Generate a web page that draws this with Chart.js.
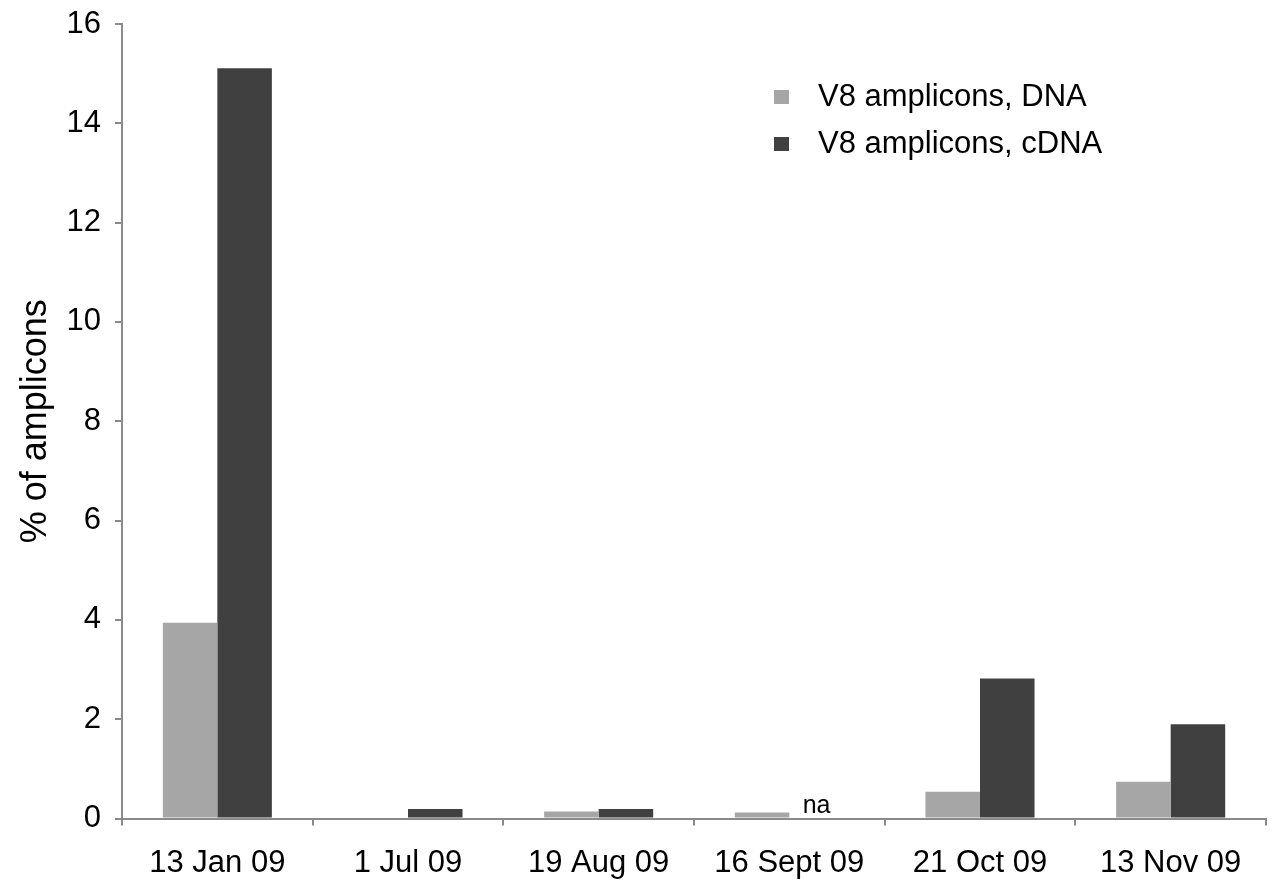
<!DOCTYPE html>
<html lang="en">
<head>
    <meta charset="UTF-8">
    <title>V8 amplicons</title>
    <script src="https://cdn.jsdelivr.net/npm/chart.js"></script>
    <style>
        body { margin: 0; background: #fff; }
        #box { width: 1274px; height: 883px; }
    </style>
</head>
<body>
    <div id="box"><canvas id="myChartCanvas"></canvas></div>

<script>
    // dados
    const datas = ["13 Jan 09", "1 Jul 09", "19 Aug 09", "16 Sept 09", "21 Oct 09", "13 Nov 09"];
    const dnaValues = [3.94, 0.02, 0.14, 0.12, 0.54, 0.74];
    const cdnaValues = [15.11, 0.19, 0.19, null, 2.82, 1.90];
    const seriesNames = ["V8 amplicons, DNA", "V8 amplicons, cDNA"];
    const yTicks = [0, 2, 4, 6, 8, 10, 12, 14, 16];

    const fonte = "'Liberation Sans', Arial, sans-serif";
    const cinzaEixo = "#8a8a8a";

    // legenda dentro do gráfico + texto "na"
    const extras = {
        id: "extras",
        afterDatasetsDraw(chart) {
            const ctx = chart.ctx;
            ctx.save();
            ctx.font = "31px " + fonte;
            ctx.textBaseline = "middle";
            ctx.textAlign = "left";
            chart.data.datasets.forEach(function (ds, i) {
                const y = 97 + i * 47;
                ctx.fillStyle = ds.backgroundColor;
                ctx.fillRect(774, y - 7, 15, 14);
                ctx.fillStyle = "#000";
                ctx.fillText(ds.label, 818, y);
            });
            // na = sem valor de cDNA
            const meta0 = chart.getDatasetMeta(0);
            ctx.font = "25px " + fonte;
            ctx.textAlign = "center";
            ctx.textBaseline = "alphabetic";
            cdnaValues.forEach(function (v, i) {
                if (v === null) {
                    const bar = meta0.data[i];
                    const x = bar.x + bar.width;
                    ctx.fillStyle = "#000";
                    ctx.fillText("na", x, chart.scales.y.getPixelForValue(0) - 6);
                }
            });
            ctx.restore();
        }
    };

    const dados = {
        labels: datas,
        datasets: [
            {
                label: seriesNames[0],
                data: dnaValues,
                backgroundColor: "#a6a6a6",
                barPercentage: 1,
                categoryPercentage: 0.572
            },
            {
                label: seriesNames[1],
                data: cdnaValues,
                backgroundColor: "#404040",
                barPercentage: 1,
                categoryPercentage: 0.572
            }
        ]
    };

    const config = {
        type: "bar",
        data: dados,
        options: {
            responsive: true,
            maintainAspectRatio: false,
            animation: false,
            layout: { padding: { top: 24, right: 8, bottom: 0, left: 0 } },
            plugins: {
                legend: { display: false },
                tooltip: { enabled: false }
            },
            scales: {
                x: {
                    afterFit(scale) {
                        scale.height = 64.5;
                    },
                    grid: {
                        offset: true,
                        drawOnChartArea: false,
                        drawTicks: true,
                        tickLength: 7,
                        color: cinzaEixo,
                        lineWidth: 2
                    },
                    border: { color: cinzaEixo, width: 2 },
                    ticks: {
                        color: "#000",
                        font: { family: fonte, size: 31 },
                        padding: 19,
                        maxRotation: 0
                    }
                },
                y: {
                    min: 0,
                    max: 16,
                    afterBuildTicks(scale) {
                        scale.ticks = yTicks.map(function (v) { return { value: v }; });
                    },
                    afterFit(scale) {
                        scale.width = 122;
                        scale.paddingTop = 0;
                        scale.paddingBottom = 0;
                    },
                    grid: {
                        drawOnChartArea: false,
                        drawTicks: true,
                        tickLength: 7,
                        color: cinzaEixo,
                        lineWidth: 2
                    },
                    border: { color: cinzaEixo, width: 2 },
                    ticks: {
                        color: "#000",
                        font: { family: fonte, size: 31 },
                        padding: 14
                    },
                    title: {
                        display: true,
                        text: "% of amplicons",
                        color: "#000",
                        font: { family: fonte, size: 36 },
                        padding: { top: 14, bottom: 0 }
                    }
                }
            }
        },
        plugins: [extras]
    };

    new Chart(document.getElementById("myChartCanvas"), config);
</script>
</body>
</html>
